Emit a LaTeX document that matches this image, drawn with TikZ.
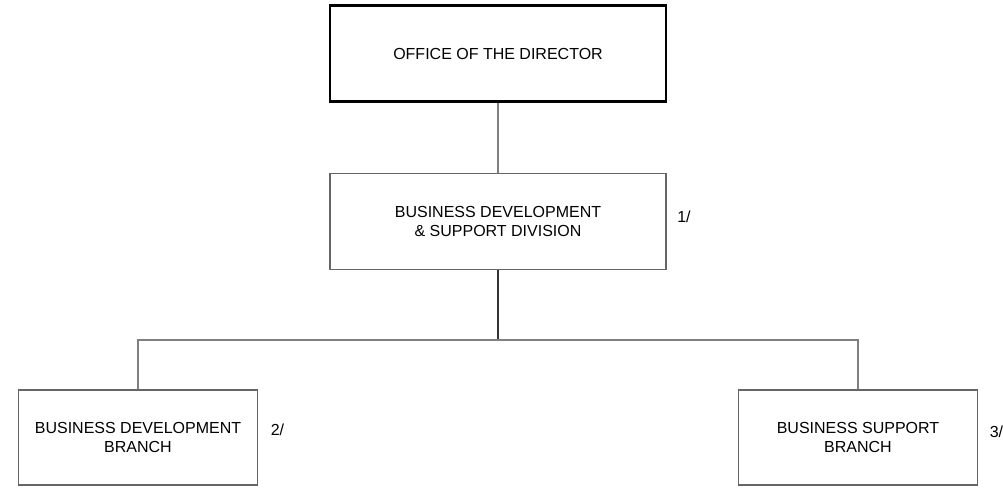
\documentclass[tikz,border=0pt]{standalone}
\usepackage{fontspec}
\setmainfont{Liberation Sans}
\begin{document}
\begin{tikzpicture}[x=1pt,y=-1pt,
  unit/.style={draw=black!60, line width=1.3pt, minimum width=336pt, minimum height=96pt,
    align=center, font=\fontsize{16}{19.5}\selectfont, inner sep=0pt},
  branch/.style={unit, minimum width=239pt, minimum height=95pt},
  head/.style={unit, draw=black, line width=2.4pt},
  note/.style={font=\fontsize{16}{19}\selectfont, inner sep=0pt},
  link/.style={draw=black!50, line width=1.6pt},
  trunk/.style={draw=black!80, line width=2pt}]
\useasboundingbox (0,0) rectangle (1003,487);
\node[head] (dir) at (498,53.5) {OFFICE OF THE DIRECTOR};
\node[unit] (div) at (498,221.5) {BUSINESS DEVELOPMENT\\\& SUPPORT DIVISION};
\node[branch] (dev) at (138,437.5) {BUSINESS DEVELOPMENT\\BRANCH};
\node[branch] (sup) at (858,437.5) {BUSINESS SUPPORT\\BRANCH};
\node[note] (n1) at (684,217) {1/};
\node[note] (n2) at (277.5,430) {2/};
\node[note] (n3) at (996.5,432) {3/};
\coordinate (bar) at (498,340);
\draw[link] (dir.south) -- (div.north);
\draw[trunk] (div.south) -- (bar);
\draw[link] (dev.north) |- (bar) -| (sup.north);
\end{tikzpicture}
\end{document}
